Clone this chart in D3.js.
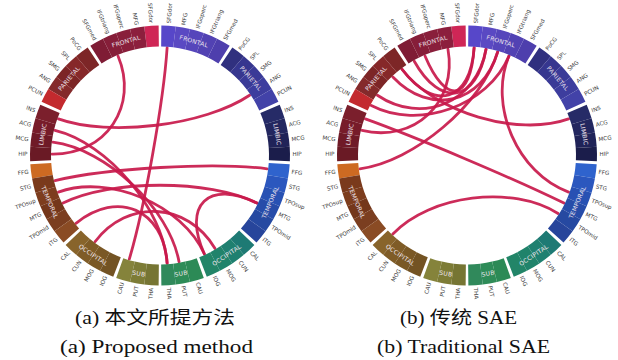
<!DOCTYPE html>
<html>
<head>
<meta charset="utf-8">
<script src="https://cdn.jsdelivr.net/npm/d3@7"></script>
<style>
  html, body { margin: 0; padding: 0; background: #fff; }
  svg { display: block; }
</style>
</head>
<body>
<svg id="chart" width="618" height="360"></svg>
<script>
// Lobes and the regions they hold, listed from the top of the ring downwards
const lobes = ["FRONTAL", "PARIETAL", "LIMBIC", "TEMPORAL", "OCCIPITAL", "SUB"];
const frontalRegions   = ["SFGdor", "MFG", "IFGoperc", "IFGtriang", "SFGmed"];
const parietalRegions  = ["PoCG", "SPL", "SMG", "ANG", "PCUN"];
const limbicRegions    = ["INS", "ACG", "MCG", "HIP"];
const temporalRegions  = ["FFG", "STG", "TPOsup", "MTG", "TPOmid", "ITG"];
const occipitalRegions = ["CAL", "CUN", "MOG", "IOG"];
const subRegions       = ["CAU", "PUT", "THA"];
const lobeRegions = [frontalRegions, parietalRegions, limbicRegions,
                     temporalRegions, occipitalRegions, subRegions];

// Segment colours, one per region (left hemisphere / right hemisphere)
const leftColors = [
  "#cf2656", "#8c1f3d", "#891f3b", "#861e39", "#7f1c35",
  "#7d2627", "#862829", "#7c2526", "#842a2b", "#c32a2e",
  "#7b1f2c", "#771c2a", "#6f1a27", "#6a1a25",
  "#cd6a22", "#7a3a1c", "#7d3d1e", "#74371b", "#7b3e20", "#8a4b24",
  "#88642b", "#7f5c27", "#7a5825", "#735323",
  "#85833b", "#7d7c36", "#767533"
];
const rightColors = [
  "#5747c9", "#5a49c3", "#5646bb", "#5242b3", "#4e3fad",
  "#30307f", "#36368f", "#3a3a97", "#3d3d9e", "#4242a8",
  "#262b67", "#23275f", "#202358", "#1b1d4b",
  "#2f63cd", "#2b57be", "#2851b3", "#274ca9", "#2649a1", "#27459b",
  "#1e7a74", "#1f8070", "#20836b", "#228568",
  "#2c8a56", "#2e8c58", "#30895b"
];

// Connections between regions ("name.L" / "name.R")
const chordsProposed = [
  ["INS.L", "ANG.R"],
  ["SFGdor.R", "CAU.L"],
  ["IFGtriang.L", "HIP.L"],
  ["ACG.L", "THA.R"],
  ["MCG.L", "PUT.R"],
  ["STG.L", "FFG.R"],
  ["TPOsup.L", "IOG.R"],
  ["MTG.L", "MTG.R"],
  ["ITG.L", "THA.R"],
  ["CUN.L", "MOG.R"],
  ["MTG.R", "IOG.R"]
];
const chordsTraditional = [
  ["IFGtriang.L", "SFGdor.R"],
  ["SFGmed.L", "MFG.R"],
  ["PoCG.L", "SFGdor.R"],
  ["SPL.L", "IFGoperc.R"],
  ["ANG.L", "MFG.R"],
  ["PCUN.L", "IFGtriang.R"],
  ["PoCG.L", "INS.R"],
  ["MFG.L", "ACG.L"],
  ["INS.L", "MTG.R"],
  ["IFGtriang.R", "TPOsup.R"],
  ["CAL.L", "TPOmid.R"],
  ["FFG.L", "IFGoperc.R"]
];

const captionsCN = ["(a) 本文所提方法", "(b) 传统 SAE"];
const captionsEN = ["(a) Proposed method", "(b) Traditional SAE"];

// ---- layout ----
const svg = d3.select("#chart");
const rOut = 130, rIn = 109;
const gapUnits = 0.22;                       // white gap between lobes, in region widths
const nRegions = d3.sum(lobeRegions, d => d.length);
const totalUnits = nRegions + (lobes.length - 1) * gapUnits;
const angle = d3.scaleLinear().domain([0, totalUnits]).range([0.6, 179.4]);   // degrees from the top
const rad = d => d * Math.PI / 180;

// flat list of regions with angular extent on each side
const regions = [];
let flat = 0;
lobeRegions.forEach((list, k) => {
  list.forEach(name => {
    const u0 = flat + k * gapUnits;
    regions.push({ name, lobe: k, idx: flat, a0: angle(u0), a1: angle(u0 + 1) });
    flat++;
  });
});

function nodeAngle(key) {
  const [name, side] = key.split(".");
  const r = regions.find(d => d.name === name);
  const mid = (r.a0 + r.a1) / 2;
  return side === "L" ? -mid : mid;
}
const polar = (deg, r) => [r * Math.sin(rad(deg)), -r * Math.cos(rad(deg))];

const arc = d3.arc().innerRadius(rIn).outerRadius(rOut);

function drawPanel(cx, cy, chords) {
  const g = svg.append("g").attr("transform", `translate(${cx},${cy})`);

  // connection curves
  const chordG = g.append("g");
  chords.forEach(([a, b]) => {
    const t0 = nodeAngle(a), t1 = nodeAngle(b);
    const p0 = polar(t0, rIn - 1), p3 = polar(t1, rIn - 1);
    const c1 = polar(t0, (rIn - 1) * 0.5), c2 = polar(t1, (rIn - 1) * 0.5);
    const p = d3.path();
    p.moveTo(p0[0], p0[1]);
    p.bezierCurveTo(c1[0], c1[1], c2[0], c2[1], p3[0], p3[1]);
    chordG.append("path")
      .attr("d", p.toString())
      .attr("fill", "none")
      .attr("stroke", "#c8194b")
      .attr("stroke-width", 2.8)
      .attr("stroke-opacity", 0.92)
      .attr("stroke-linecap", "round");
  });

  ["L", "R"].forEach(side => {
    const s = side === "L" ? -1 : 1;
    const colors = side === "L" ? leftColors : rightColors;

    // ring segments
    regions.forEach(r => {
      const a = s > 0 ? [r.a0, r.a1] : [-r.a1, -r.a0];
      g.append("path")
        .attr("d", arc({ startAngle: rad(a[0]), endAngle: rad(a[1]) }))
        .attr("fill", colors[r.idx]);
    });

    // region names outside the ring
    regions.forEach(r => {
      const t = s * (r.a0 + r.a1) / 2;
      const [x, y] = polar(t, rOut + 2.5);
      g.append("text")
        .attr("transform", `translate(${x},${y}) rotate(${s > 0 ? t - 90 : t + 90})`)
        .attr("text-anchor", s > 0 ? "start" : "end")
        .attr("dominant-baseline", "central")
        .attr("font-family", "DejaVu Sans, sans-serif")
        .attr("font-size", 5.6)
        .attr("fill", "#3c3c3c")
        .text(r.name);
    });

    // lobe names on the ring
    lobes.forEach((lobe, k) => {
      const rs = regions.filter(r => r.lobe === k);
      const mid = s * (rs[0].a0 + rs[rs.length - 1].a1) / 2;
      const [x, y] = polar(mid, (rIn + rOut) / 2);
      let rot = mid;
      if (rot > 90) rot -= 180;
      if (rot < -90) rot += 180;
      g.append("text")
        .attr("transform", `translate(${x},${y}) rotate(${rot})`)
        .attr("text-anchor", "middle")
        .attr("dominant-baseline", "central")
        .attr("font-family", "DejaVu Sans, sans-serif")
        .attr("font-size", 6)
        .attr("letter-spacing", 0.3)
        .attr("fill", "#efe6ee")
        .text(lobe);
    });
  });
}

drawPanel(160, 155.5, chordsProposed);
drawPanel(467, 155.5, chordsTraditional);

// captions
const capCN = [{ x: 155, w: 160 }, { x: 458.5, w: 117 }];
const capEN = [{ x: 156.5, w: 193 }, { x: 463.5, w: 173 }];
captionsCN.forEach((t, i) => {
  svg.append("text")
    .attr("x", capCN[i].x - capCN[i].w / 2).attr("y", 324)
    .attr("textLength", capCN[i].w).attr("lengthAdjust", "spacingAndGlyphs")
    .attr("font-family", "Liberation Serif, Noto Sans CJK SC, serif")
    .attr("font-size", 18).attr("fill", "#111")
    .text(t);
});
captionsEN.forEach((t, i) => {
  svg.append("text")
    .attr("x", capEN[i].x - capEN[i].w / 2).attr("y", 353)
    .attr("textLength", capEN[i].w).attr("lengthAdjust", "spacingAndGlyphs")
    .attr("font-family", "Liberation Serif, serif")
    .attr("font-size", 19).attr("fill", "#111")
    .text(t);
});
</script>
</body>
</html>
